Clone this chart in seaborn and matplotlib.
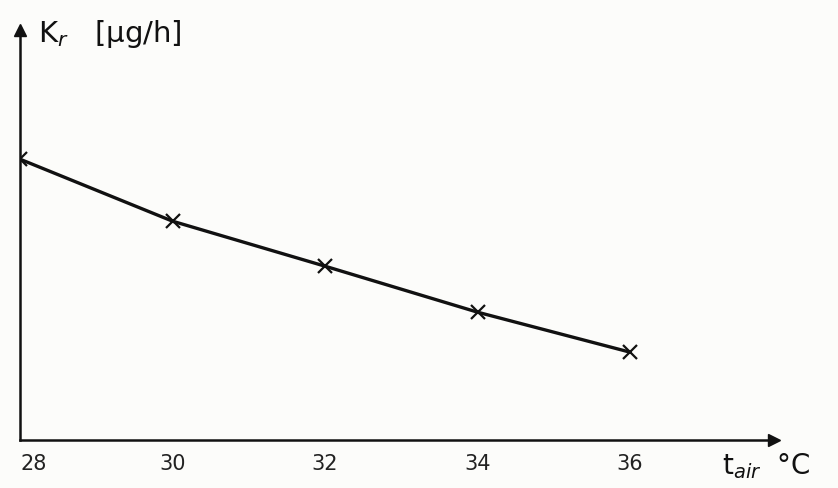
import numpy as np
import pandas as pd
import seaborn as sns
import matplotlib.pyplot as plt

# data (y in arbitrary units, no y scale given)
t_air = [28, 30, 32, 34, 36]
k_r = [2.81, 2.19, 1.74, 1.28, 0.88]
x_ticks = [28, 30, 32, 34, 36]

df = pd.DataFrame({"t_air": t_air, "k_r": k_r})

sns.set_theme(style="white")
plt.rcParams['font.family'] = ['DejaVu Sans']
bg = "#fcfcfa"

fig = plt.figure(figsize=(8.38, 4.88), dpi=100, facecolor=bg)
ax = fig.add_axes([0.024, 0.098, 0.90, 0.84], facecolor=bg)

sns.lineplot(data=df, x="t_air", y="k_r", ax=ax, color="#111111", linewidth=2.4,
             marker="x", markersize=10, markeredgewidth=1.6, markeredgecolor="#111111")

ax.set_xlim(28, 28 + 0.90 * 838 / 76.25)
ax.set_ylim(0, 4.1)
ax.set_xticks(x_ticks)
ax.set_xticklabels([str(v) for v in x_ticks], fontsize=15, color="#222222")
ax.get_xticklabels()[0].set_horizontalalignment("left")
ax.set_yticks([])
ax.tick_params(axis="x", length=4, direction="inout", width=1, color="#333333", pad=8)
ax.set_xlabel("")
ax.set_ylabel("")

for s in ["top", "right"]:
    ax.spines[s].set_visible(False)
for s in ["left", "bottom"]:
    ax.spines[s].set_color("#111111")
    ax.spines[s].set_linewidth(1.8)

# arrow heads on the axes
ax.plot(1, 0, marker=">", color="#111111", markersize=8, transform=ax.transAxes, clip_on=False)
ax.plot(0, 1, marker="^", color="#111111", markersize=8, transform=ax.transAxes, clip_on=False)

fig.text(0.045, 0.93, "K$_r$   [μg/h]", fontsize=21, color="#111111", ha="left", va="center")
fig.text(0.862, 0.045, "t$_{air}$  °C", fontsize=20, color="#111111", ha="left", va="center")

fig.savefig("out.png", dpi=100, facecolor=bg)
